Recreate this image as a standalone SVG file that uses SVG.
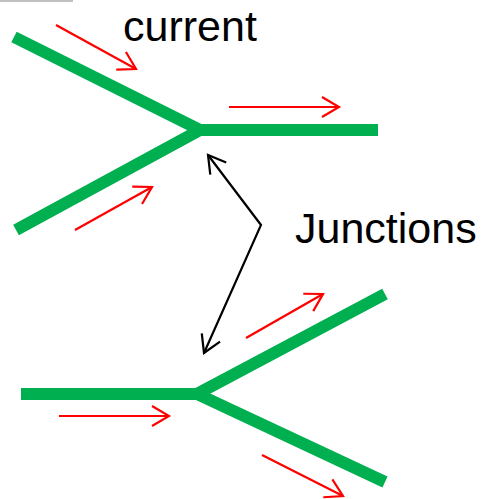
<svg xmlns="http://www.w3.org/2000/svg" width="481" height="499" viewBox="0 0 481 499">
<style>
.wire{stroke:#00b050;stroke-width:12;fill:none;stroke-linejoin:miter}
.cur{stroke:#ff0000;stroke-width:2.2;fill:none;marker-end:url(#ra)}
.lbl{font-family:"Liberation Sans",Arial,sans-serif;font-size:43px;fill:#000}
.ptr{stroke:#000;stroke-width:2.2;fill:none;marker-start:url(#ka);marker-end:url(#ka)}
</style>
<defs>
<marker id="ra" markerUnits="userSpaceOnUse" markerWidth="24" markerHeight="24" refX="20" refY="12" orient="auto-start-reverse" viewBox="0 0 24 24">
<path d="M3,2 L20,12 L3,22" fill="none" stroke="#ff0000" stroke-width="2.2"/>
</marker>
<marker id="ka" markerUnits="userSpaceOnUse" markerWidth="24" markerHeight="24" refX="20" refY="12" orient="auto-start-reverse" viewBox="0 0 24 24">
<path d="M3,2 L20,12 L3,22" fill="none" stroke="#000" stroke-width="2.2"/>
</marker>
</defs>
<line x1="0" y1="1" x2="73" y2="1" stroke="#c0c0c0" stroke-width="2"/>
<g id="junction-top">
<polyline class="wire" points="14,37 200,130 16,230"/>
<line class="wire" x1="200" y1="130" x2="378" y2="130"/>
</g>
<g id="junction-bottom">
<line class="wire" x1="21" y1="394" x2="197" y2="394"/>
<polyline class="wire" points="385,294 197,394 385,482"/>
</g>
<g id="currents">
<line class="cur" x1="56" y1="25" x2="136" y2="69"/>
<line class="cur" x1="229" y1="107" x2="339" y2="107"/>
<line class="cur" x1="75" y1="230" x2="152" y2="187"/>
<line class="cur" x1="246" y1="338" x2="323" y2="294"/>
<line class="cur" x1="59" y1="416" x2="169" y2="416"/>
<line class="cur" x1="262" y1="455" x2="343" y2="496"/>
</g>
<g id="connectors">
<polyline class="ptr" points="208,155 261,225 204,353"/>
</g>
<g id="label-current"><text class="lbl" x="123" y="41">current</text></g>
<g id="label-junctions"><text class="lbl" x="295" y="243">Junctions</text></g>
</svg>
